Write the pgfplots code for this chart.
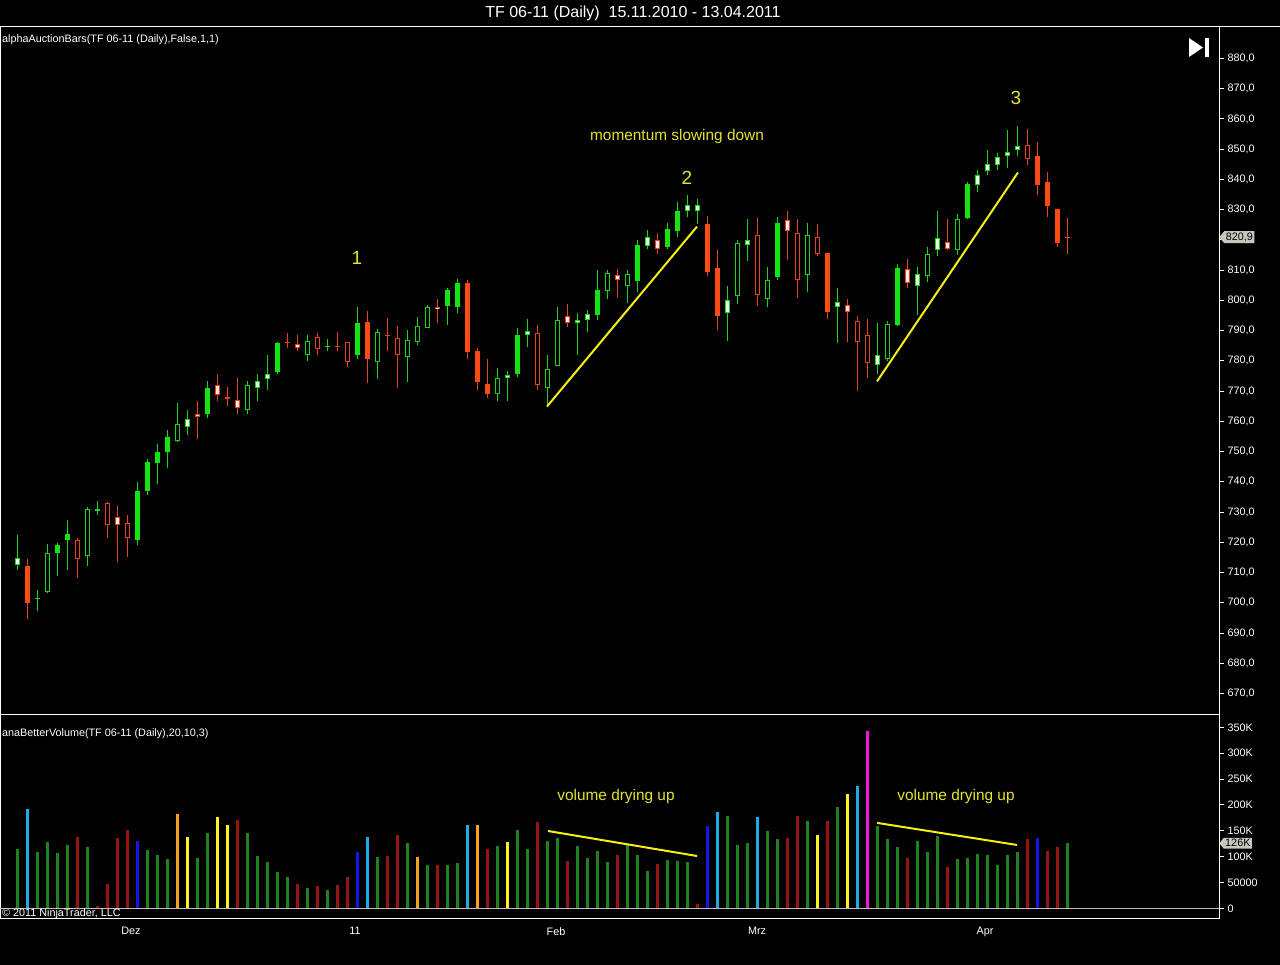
\documentclass[border=0pt]{standalone}
\usepackage{pgfplots}
\pgfplotsset{compat=1.18}
\usepackage{pgfplotstable}
\usepackage{fontspec}
\setmainfont{Liberation Sans}
\usetikzlibrary{shapes.symbols,backgrounds}
\definecolor{candlegreenfill}{RGB}{20,228,20}
\definecolor{candlegreenline}{RGB}{30,210,30}
\definecolor{candleredfill}{RGB}{250,75,20}
\definecolor{candleredline}{RGB}{230,65,35}
\definecolor{candlegreenwhite}{RGB}{235,255,235}
\definecolor{candleredwhite}{RGB}{255,235,225}
\definecolor{vg}{RGB}{30,130,30}
\definecolor{vr}{RGB}{150,20,20}
\definecolor{vlb}{RGB}{30,170,230}
\definecolor{vb}{RGB}{20,20,235}
\definecolor{vy}{RGB}{250,245,30}
\definecolor{vo}{RGB}{245,160,30}
\definecolor{vm}{RGB}{240,20,230}
\definecolor{ann}{RGB}{228,228,50}
\definecolor{annl}{RGB}{245,240,20}
\definecolor{lbl}{RGB}{200,200,190}
\definecolor{basel}{RGB}{190,190,190}
\newcommand\tf{\fontsize{10.8}{13}\selectfont}
\newcommand\af{\fontsize{15.4}{18}\selectfont}
\newcommand\hf{\fontsize{16}{19}\selectfont}
\newcommand\nf{\fontsize{19}{22}\selectfont}

% candles: index, open, high, low, close
\pgfplotstableread{
i o h l c
4 716.4 719.8 708.8 719.0
5 720.6 727.4 710.7 722.6
12 720.9 739.9 719.2 737.1
13 737.1 747.6 735.5 746.7
14 746.2 752.6 739.3 749.7
15 749.8 757.2 744.5 754.8
19 762.3 773.2 761.1 771.0
26 776.3 786.4 775.5 785.9
34 781.8 797.8 780.7 792.5
43 798.1 804.2 792.0 803.3
44 797.8 807.1 795.8 805.7
50 775.5 790.9 774.6 788.4
58 795.3 809.9 793.6 803.3
62 806.4 820.0 802.7 818.2
65 817.6 825.6 817.1 823.7
66 822.8 832.5 821.1 829.7
76 807.7 827.7 806.8 825.7
88 791.7 811.9 791.4 810.8
95 827.3 839.3 827.0 838.5
}\GF
\pgfplotstableread{
i o h l c
2 701.3 704.1 697.2 701.7
8 730.5 733.8 729.1 730.9
31 784.6 787.3 783.4 785.0
}\GX
\pgfplotstableread{
i o h l c
3 703.5 719.5 703.3 716.5
7 715.4 731.8 712.1 730.9
16 753.4 766.2 753.3 759.2
23 763.8 773.5 762.3 771.9
29 782.1 788.4 779.9 786.7
36 779.6 790.6 773.9 789.7
39 781.2 790.3 773.0 786.9
40 786.2 794.4 785.3 791.4
41 791.0 798.5 790.8 797.7
48 769.1 777.7 766.7 774.4
53 771.1 782.1 764.7 777.4
54 778.3 797.8 778.2 793.4
59 803.1 810.1 800.3 809.1
61 804.7 810.1 799.2 808.8
72 801.4 820.1 798.9 819.0
75 800.5 811.2 797.8 806.8
79 808.5 825.7 802.7 821.5
87 780.7 793.1 779.9 792.3
91 808.0 817.8 806.0 815.4
94 816.7 828.4 815.1 827.0
}\GH
\pgfplotstableread{
i o h l c
0 712.6 722.3 711.0 714.8
17 758.1 763.9 755.5 760.8
24 771.0 775.5 766.6 773.5
25 773.9 781.8 770.5 775.7
49 774.3 776.8 766.7 775.4
51 788.6 793.9 784.5 790.0
56 792.5 795.9 782.1 793.6
57 793.6 796.9 789.5 795.6
63 817.9 823.3 817.1 821.1
67 829.5 835.0 827.5 831.7
68 829.6 833.4 825.3 831.6
71 795.9 804.6 786.6 800.0
73 818.4 827.0 813.0 820.0
82 797.8 804.1 785.9 799.4
86 778.7 792.5 775.7 781.8
90 804.7 811.2 795.3 808.8
92 816.7 829.7 814.6 820.7
96 838.2 843.0 835.8 841.5
97 842.7 849.6 841.3 845.2
98 844.8 848.8 843.2 847.4
99 847.7 856.5 843.8 849.2
100 849.8 857.8 847.6 851.2
}\GW
\pgfplotstableread{
i o h l c
1 712.3 714.5 694.7 699.9
35 792.8 796.4 772.6 780.7
45 805.7 806.9 780.7 782.9
46 783.1 784.3 770.2 773.0
47 772.4 780.5 767.8 768.9
69 825.1 827.8 807.9 809.4
70 810.8 816.7 790.1 794.8
81 815.6 815.7 793.9 796.1
102 847.9 852.5 834.7 838.0
103 839.1 842.4 827.7 831.1
104 830.1 830.2 817.8 819.0
}\RF
\pgfplotstableread{
i o h l c
21 767.9 771.3 765.2 767.5
27 786.2 789.2 784.2 785.8
32 784.9 789.5 783.1 784.5
37 788.7 794.1 783.1 788.3
105 821.1 827.2 815.4 820.7
}\RX
\pgfplotstableread{
i o h l c
6 720.9 721.4 708.2 714.5
9 733.1 733.3 721.4 725.8
11 726.4 728.9 715.1 721.5
30 787.9 789.2 782.1 783.8
33 786.1 786.2 778.1 779.6
38 787.7 791.5 771.0 782.0
52 789.3 791.7 770.2 772.1
74 821.5 827.3 798.1 801.8
78 822.3 827.0 800.8 806.8
80 821.1 825.1 814.6 815.2
84 793.1 794.7 769.9 786.2
85 788.4 793.7 774.4 779.2
101 851.4 856.7 844.9 846.8
}\RH
\pgfplotstableread{
i o h l c
10 728.5 732.1 713.4 725.8
18 762.5 766.6 754.0 761.4
20 772.1 775.5 766.6 768.8
22 766.9 774.4 762.5 764.4
28 785.6 788.4 783.1 784.2
42 797.9 800.3 792.5 797.0
55 794.7 798.9 791.2 792.5
60 808.5 810.5 800.9 806.8
64 820.0 822.4 815.4 817.1
77 826.6 829.4 813.5 822.8
83 798.5 800.5 786.2 796.3
89 810.4 813.7 804.0 805.7
93 819.3 826.8 816.7 817.1
}\RW

% volume (thousands) by colour
\pgfplotstableread{
i v
0 114.7
2 109
3 128.2
4 107
5 122.4
7 118.6
13 112.8
14 103.1
15 95.4
18 97.4
19 145.6
23 145.6
24 101.2
25 89.6
26 70.3
27 60.7
29 39.5
31 35.7
36 99.3
39 126.3
41 83.9
43 83.9
44 87.7
48 120.5
50 151.4
51 114.7
53 130.2
54 136
56 120.5
57 97.4
58 110.9
59 89.6
61 122.4
62 103.1
63 72.3
65 93.5
66 91.6
67 89.6
71 178.4
72 122.4
73 126.3
75 149.5
76 134
79 168.7
82 195.7
86 159
87 134
88 118.6
90 130.2
91 109
92 139.8
94 95.4
95 97.4
96 105
97 103.1
98 83.9
99 103.1
100 109
105 126
}\Vg
\pgfplotstableread{
i v
6 138.5
8 4.8
9 47.2
10 136
11 151.4
22 170.6
28 47.2
30 43.4
32 45.3
33 60.7
37 101.2
38 141.7
42 83.9
47 114.7
52 166.8
55 91.6
60 103.1
64 85.8
68 8.7
77 136.6
78 178.4
81 168.7
89 97.4
93 80
101 134
103 110.9
104 118.6
}\Vr
\pgfplotstableread{
i v
1 191.9
35 137.8
45 161
70 186
74 176.4
84 236.2
}\Vlb
\pgfplotstableread{
i v
12 130.2
34 109
69 159
102 136
}\Vb
\pgfplotstableread{
i v
17 137.8
20 176.4
21 161
49 128.2
80 141.7
83 220.8
}\Vy
\pgfplotstableread{
i v
16 182.2
40 99.3
46 161
}\Vo
\pgfplotstableread{
i v
85 342.3
}\Vm

\pgfplotsset{candlepart/.style={only marks, mark=-, mark size=0pt,
  mark options={opacity=0}, forget plot}}
\newcommand\wick[2]{\addplot[candlepart, color=#2,
  error bars/.cd, y dir=plus, y explicit, error mark=none,
  error bar style={color=#2, line width=1pt}]
  table[x=i, y=l, y error plus expr={\thisrow{h}-\thisrow{l}}] {#1};}
\newcommand\body[2]{\addplot[candlepart, color=#2,
  error bars/.cd, y dir=plus, y explicit, error mark=none,
  error bar style={color=#2, line width=5pt}]
  table[x=i, y expr={min(\thisrow{o},\thisrow{c})}, y error plus expr={abs(\thisrow{c}-\thisrow{o})}] {#1};}
\newcommand\inner[2]{\addplot[candlepart, color=#2,
  error bars/.cd, y dir=plus, y explicit, error mark=none,
  error bar style={color=#2, line width=3pt}]
  table[x=i, y expr={min(\thisrow{o},\thisrow{c})+0.33}, y error plus expr={abs(\thisrow{c}-\thisrow{o})-0.66}] {#1};}
\newcommand\vol[2]{\addplot[ycomb, mark=none, draw=#2, line width=3pt, forget plot] table[x=i, y=v] {#1};}

\pgfplotsset{panel/.style={
  scale only axis,
  axis line style={white, line width=1pt},
  xmin=-1.65, xmax=120.2,
  ytick pos=right, yticklabel pos=right,
  tick align=outside, major tick length=5pt,
  ytick style={white, line width=1pt},
  tick label style={text=white, font=\tf},
  clip=false,
}}

\begin{document}
\begin{tikzpicture}
\begin{axis}[panel, name=price, at={(0.5pt,250pt)}, anchor=south west,
  width=1218.5pt, height=688pt,
  ymin=662.9, ymax=890.4,
  ytick={670,680,...,880}, xtick=\empty,
  yticklabel style={/pgf/number format/.cd, fixed, fixed zerofill, precision=1, use comma, assume math mode=true},
]
\wick{\GF}{candlegreenline}\body{\GF}{candlegreenfill}
\wick{\GX}{candlegreenline}\body{\GX}{candlegreenline}
\wick{\GH}{candlegreenline}\body{\GH}{candlegreenline}\inner{\GH}{black}
\wick{\GW}{candlegreenline}\body{\GW}{candlegreenline}\inner{\GW}{candlegreenwhite}
\wick{\RF}{candleredline}\body{\RF}{candleredfill}
\wick{\RX}{candleredline}\body{\RX}{candleredline}
\wick{\RH}{candleredline}\body{\RH}{candleredline}\inner{\RH}{black}
\wick{\RW}{candleredline}\body{\RW}{candleredline}\inner{\RW}{candleredwhite}
\addplot[annl, line width=2pt, forget plot] coordinates {(53,764.9) (68,824.4)};
\addplot[annl, line width=2pt, forget plot] coordinates {(86,773.2) (100.1,842.3)};
\node[text=ann, font=\nf] at (axis cs:34,813.9) {1};
\node[text=ann, font=\nf] at (axis cs:67,840.6) {2};
\node[text=ann, font=\nf] at (axis cs:99.9,866.8) {3};
\node[text=ann, font=\af] at (axis cs:66,854.2) {momentum slowing down};
\node[signal, signal to=west, signal pointer angle=100, fill=lbl, text=black, font=\tf, inner sep=1.5pt, anchor=west] at (axis cs:120.2,820.9) {820,9};
\end{axis}

\begin{axis}[panel, name=volume, at={(price.south west)}, anchor=north west,
  width=1218.5pt, height=204pt,
  ymin=-20.28, ymax=373.8,
  ytick={0,50,...,350},
  yticklabels={0,50000,100K,150K,200K,250K,300K,350K},
  xtick={11.4,33.8,53.9,74,96.8},
  xticklabels={Dez,11,Feb,Mrz,Apr},
  xtick style={draw=none},
  xticklabel style={text depth=0pt},
]
\addplot[basel, line width=1pt, forget plot] coordinates {(-1.65,0) (120.2,0)};
\vol{\Vg}{vg}
\vol{\Vr}{vr}
\vol{\Vlb}{vlb}
\vol{\Vb}{vb}
\vol{\Vy}{vy}
\vol{\Vo}{vo}
\vol{\Vm}{vm}
\addplot[annl, line width=2pt, forget plot] coordinates {(53.1,149.7) (68,101.4)};
\addplot[annl, line width=2pt, forget plot] coordinates {(86,165.4) (100,122.7)};
\node[text=ann, font=\af] at (axis cs:59.9,215.4) {volume drying up};
\node[text=ann, font=\af] at (axis cs:93.9,215.4) {volume drying up};
\node[signal, signal to=west, signal pointer angle=100, fill=lbl, text=black, font=\tf, inner sep=1.5pt, anchor=west] at (axis cs:120.2,126) {126K};
\end{axis}

\begin{scope}[on background layer]
\fill[black] (0pt,0pt) rectangle (1280pt,965pt);
\end{scope}
\draw[white, line width=1pt] (0pt,938pt) -- (1280pt,938pt);
\node[white, font=\hf] at (633pt,952pt) {TF 06-11 (Daily)\ \ 15.11.2010 - 13.04.2011};
\node[white, font=\tf, anchor=west, inner sep=0pt] at (2pt,925pt) {alphaAuctionBars(TF 06-11 (Daily),False,1,1)};
\node[white, font=\tf, anchor=west, inner sep=0pt] at (2pt,231pt) {anaBetterVolume(TF 06-11 (Daily),20,10,3)};
\node[white, font=\tf, anchor=west, inner sep=0pt] at (2pt,51.5pt) {\textcopyright{} 2011 NinjaTrader, LLC};
\fill[white] (1189pt,927pt) -- (1189pt,908pt) -- (1203pt,917.5pt) -- cycle;
\fill[white] (1205pt,927pt) rectangle (1209pt,908pt);
\pgfresetboundingbox
\path[use as bounding box] (0pt,0pt) rectangle (1280pt,965pt);
\end{tikzpicture}
\end{document}
